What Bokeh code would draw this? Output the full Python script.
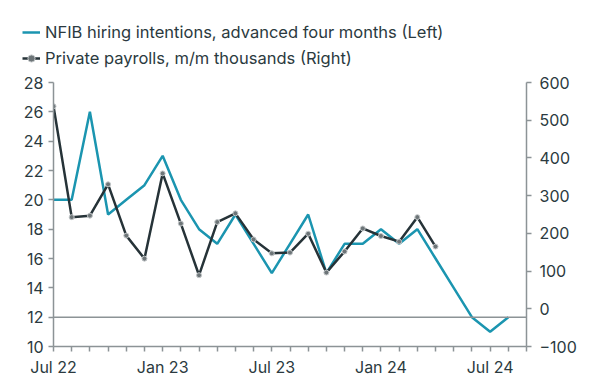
from bokeh.plotting import figure
from bokeh.layouts import column
from bokeh.models import Range1d, LinearAxis, FixedTicker, Span, Legend, LegendItem
from bokeh.embed import file_html
from bokeh.resources import INLINE

months = ["Jul 22", "Aug 22", "Sep 22", "Oct 22", "Nov 22", "Dec 22",
          "Jan 23", "Feb 23", "Mar 23", "Apr 23", "May 23", "Jun 23",
          "Jul 23", "Aug 23", "Sep 23", "Oct 23", "Nov 23", "Dec 23",
          "Jan 24", "Feb 24", "Mar 24", "Apr 24", "May 24", "Jun 24",
          "Jul 24", "Aug 24", "Sep 24"]
tick_labels = ["Jul 22", "Jan 23", "Jul 23", "Jan 24", "Jul 24"]

nfib = [20, 20, 26, 19, 20, 21, 23, 20, 18, 17, 19, 17, 15, 17, 19, 15, 17, 17,
        18, 17, 18, 16, 14, 12, 11, 12]
payrolls = [537, 243, 247, 330, 194, 133, 359, 226, 89, 230, 253, 184, 147, 149,
            199, 96, 152, 213, 193, 178, 243, 165]

TEAL = "#1b95b0"
DARK = "#263338"
GREY = "#8c9396"
TXT = "#2b3a40"
FONT = "Inter"
FS = "16px"
W = 581

# ---- legend strip above the chart ----
lg = figure(width=W, height=74, output_backend="svg", toolbar_location=None,
            x_range=Range1d(0, 1), y_range=Range1d(0, 1),
            x_axis_location=None, y_axis_location=None,
            min_border=0, min_border_left=0, min_border_right=0,
            min_border_top=0, min_border_bottom=0)
lg.frame_align = False
lg.grid.visible = False
lg.outline_line_color = None
# off-screen stand-ins that only provide the legend swatches
d1 = lg.line([5, 6], [5, 6], line_color=TEAL, line_width=2.5)
d2 = lg.line([5, 6], [5, 6], line_color=DARK, line_width=2.5)
d3 = lg.scatter([5, 6], [5, 6], marker="circle", size=5, fill_color="#6d7578",
                line_color="#c4c8ca", line_width=1)
legend = Legend(items=[
    LegendItem(label="NFIB hiring intentions, advanced four months (Left)", renderers=[d1]),
    LegendItem(label="Private payrolls, m/m thousands (Right)", renderers=[d2, d3]),
], location=(22, 6), orientation="vertical")
legend.label_text_font = FONT
legend.label_text_font_size = "16.5px"
legend.label_text_color = TXT
legend.background_fill_alpha = 0
legend.border_line_color = None
legend.glyph_width = 18
legend.glyph_height = 20
legend.label_height = 20
legend.label_standoff = 5
legend.spacing = 6
legend.padding = 0
legend.margin = 0
lg.add_layout(legend, "center")

# ---- main chart ----
p = figure(width=W, height=305, output_backend="svg", toolbar_location=None,
           x_range=Range1d(0, len(months) - 1), y_range=Range1d(10, 28),
           min_border_left=53, min_border_right=55, min_border_top=8,
           min_border_bottom=31)
p.frame_align = False
p.extra_y_ranges = {"right": Range1d(-100, 600)}
p.outline_line_color = None
p.xgrid.visible = False
p.ygrid.visible = False

p.add_layout(Span(location=12, dimension="width", line_color=GREY, line_width=1.5))

p.line(list(range(len(nfib))), nfib, line_color=TEAL, line_width=2.5)
p.line(list(range(len(payrolls))), payrolls, line_color=DARK, line_width=2.5,
       y_range_name="right")
p.scatter(list(range(len(payrolls))), payrolls, marker="circle", size=5,
          fill_color="#6d7578", line_color="#c4c8ca", line_width=1,
          y_range_name="right")

ra = LinearAxis(y_range_name="right", ticker=FixedTicker(ticks=list(range(-100, 601, 100))))
p.add_layout(ra, "right")

p.yaxis[0].ticker = FixedTicker(ticks=list(range(10, 29, 2)))
p.xaxis.ticker = FixedTicker(ticks=list(range(len(months))))
p.xaxis.major_label_overrides = {i: (m if m in tick_labels else "") for i, m in enumerate(months)}

for ax in [p.yaxis[0], ra, p.xaxis[0]]:
    ax.axis_line_color = GREY
    ax.axis_line_width = 1.5
    ax.major_tick_line_color = GREY
    ax.major_tick_line_width = 1.5
    ax.major_tick_out = 5
    ax.major_tick_in = 0
    ax.minor_tick_line_color = None
    ax.major_label_text_font = FONT
    ax.major_label_text_font_size = FS
    ax.major_label_text_color = TXT
p.yaxis[0].major_label_standoff = 5
ra.major_label_standoff = 8
p.xaxis[0].major_label_standoff = 5

layout = column(lg, p, spacing=0)
open("out.html", "w").write(file_html(layout, INLINE))
